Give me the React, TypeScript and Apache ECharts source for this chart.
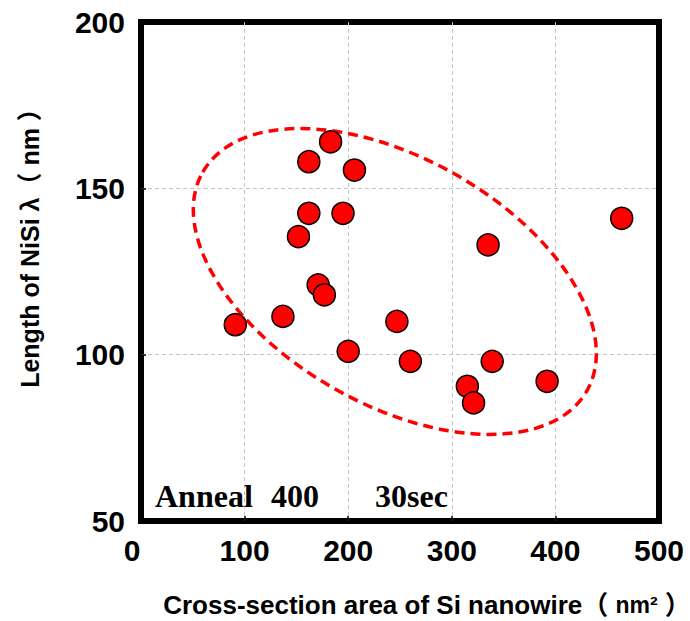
import React, { useEffect, useRef } from "react";
import * as echarts from "echarts";

// Cross-section area (nm^2) vs NiSi length (nm)
const areaValues: number[] = [91, 137, 162, 183, 206, 162, 195, 152, 171, 177, 200, 247, 260, 339, 335, 464, 315, 321, 392];
const lengthValues: number[] = [109, 111.5, 158, 164, 155.5, 142.5, 142.5, 135.5, 121, 118, 101, 110, 98, 98, 133, 141, 90.5, 85.5, 92];
const xTicks = { min: 0, max: 500, interval: 100 };
const yTicks = { min: 50, max: 200, interval: 50 };
// Dashed guide ellipse center in data units
const ellipseCenter: number[] = [245, 122];

const SANS = "'Liberation Sans', Arial, 'Noto Sans CJK SC', sans-serif";
const SERIF = "'Liberation Serif', 'Times New Roman', serif";

export default function App() {
  const ref = useRef<HTMLDivElement>(null);
  useEffect(() => {
    if (!ref.current) return;
    const chart = echarts.init(ref.current, undefined, { renderer: "svg" });
    const points = areaValues.map((x, i) => [x, lengthValues[i]]);
    const split = {
      show: true,
      showMinLine: false,
      showMaxLine: false,
      lineStyle: { color: "#c4c4c4", width: 1, type: [4, 3] },
    };
    chart.setOption({
      animation: false,
      backgroundColor: "#fff",
      grid: {
        left: 141,
        top: 22,
        width: 518,
        height: 499,
        show: true,
        borderColor: "#000",
        borderWidth: 6,
        backgroundColor: "transparent",
      },
      xAxis: {
        type: "value",
        min: xTicks.min,
        max: xTicks.max,
        interval: xTicks.interval,
        axisLine: { show: false },
        axisTick: { show: true, inside: true, length: 5, lineStyle: { color: "#000", width: 1.5 } },
        splitLine: split,
        axisLabel: {
          margin: 14,
          color: "#000",
          fontSize: 30,
          fontWeight: "bold",
          fontFamily: SANS,
          formatter: (v: number) => (v === 0 ? "{z|0}" : String(v)),
          rich: {
            z: { fontSize: 30, fontWeight: "bold", fontFamily: SANS, color: "#000", padding: [0, 18, 0, 0] },
          },
        },
      },
      yAxis: {
        type: "value",
        min: yTicks.min,
        max: yTicks.max,
        interval: yTicks.interval,
        axisLine: { show: false },
        axisTick: { show: true, inside: true, length: 5, lineStyle: { color: "#000", width: 1.5 } },
        splitLine: split,
        axisLabel: {
          margin: 16,
          color: "#000",
          fontSize: 30,
          fontWeight: "bold",
          fontFamily: SANS,
        },
      },
      series: [
        {
          type: "custom",
          silent: true,
          clip: false,
          z: 1,
          data: [ellipseCenter],
          renderItem: (params: any, api: any) => {
            const p = api.coord([api.value(0), api.value(1)]);
            return {
              type: "ellipse",
              x: p[0],
              y: p[1],
              rotation: (-29.7 * Math.PI) / 180,
              shape: { cx: 0, cy: 0, rx: 221, ry: 123 },
              style: { fill: "none", stroke: "#ff0000", lineWidth: 3.5, lineDash: [10, 6] },
            };
          },
        },
        {
          type: "scatter",
          z: 3,
          symbol: "circle",
          symbolSize: 22,
          data: points,
          itemStyle: { color: "#ff0000", borderColor: "#000", borderWidth: 1.5, opacity: 1 },
        },
      ],
      graphic: [
        {
          type: "text",
          x: 427,
          y: 605,
          style: {
            text: "{a|Cross-section area of Si nanowire（ }{b|nm²}{a| ）}",
            align: "center",
            verticalAlign: "middle",
            fill: "#000",
            rich: {
              a: { fontSize: 26, fontWeight: "bold", fontFamily: SANS, fill: "#000" },
              b: { fontSize: 23, fontWeight: "bold", fontFamily: SANS, fill: "#000" },
            },
          },
        },
        {
          type: "text",
          x: 30,
          y: 242,
          rotation: Math.PI / 2,
          style: {
            text: "Length of NiSi λ（ nm ）",
            align: "center",
            verticalAlign: "middle",
            fontSize: 25,
            fontWeight: "bold",
            fontFamily: SANS,
            fill: "#000",
          },
        },
        {
          type: "text",
          x: 155,
          y: 496,
          z: 10,
          style: { text: "Anneal", align: "left", verticalAlign: "middle", fontSize: 32, fontWeight: "bold", fontFamily: SERIF, fill: "#000" },
        },
        {
          type: "text",
          x: 271,
          y: 496,
          z: 10,
          style: { text: "400", align: "left", verticalAlign: "middle", fontSize: 32, fontWeight: "bold", fontFamily: SERIF, fill: "#000" },
        },
        {
          type: "text",
          x: 375,
          y: 496,
          z: 10,
          style: { text: "30sec", align: "left", verticalAlign: "middle", fontSize: 32, fontWeight: "bold", fontFamily: SERIF, fill: "#000" },
        },
      ],
    });
    return () => chart.dispose();
  }, []);
  return <div ref={ref} style={{ position: "fixed", left: 0, top: 0, width: 690, height: 621 }} />;
}
